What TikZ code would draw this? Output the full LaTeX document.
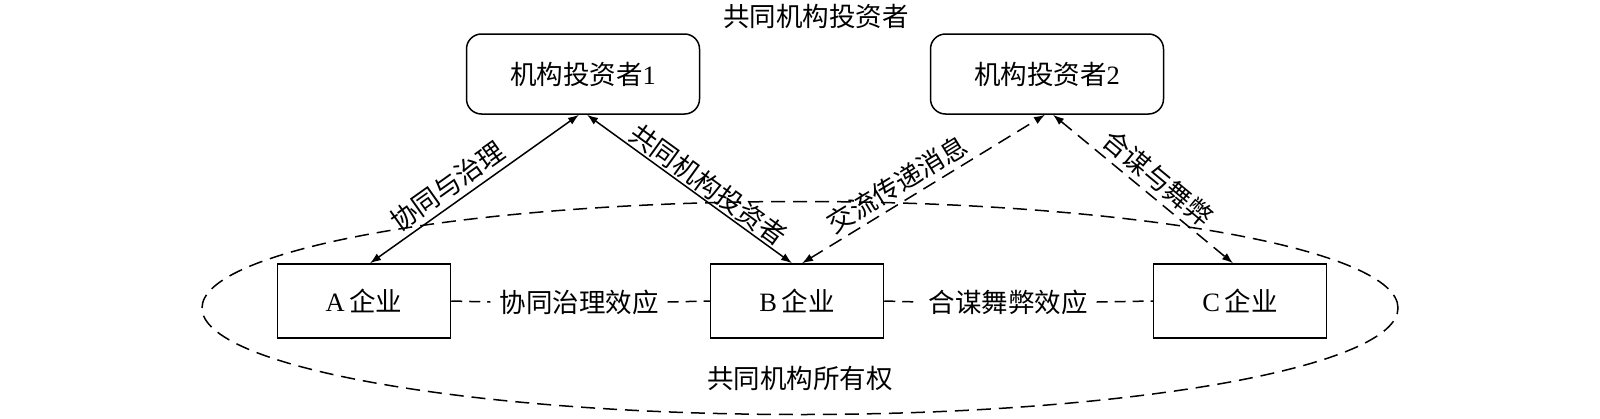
\documentclass[tikz,border=0pt]{standalone}
\usepackage{fontspec}
\setmainfont{Liberation Serif}
\newfontfamily\cjk{Noto Sans CJK SC}
\usetikzlibrary{arrows.meta,shapes.geometric}
\begin{document}
\begin{tikzpicture}[x=1pt,y=-1pt,
  every node/.style={font=\fontsize{26.5}{30}\selectfont},
  invbox/.style={draw, line width=1.5pt, rounded corners=15pt, minimum width=233pt, minimum height=80pt, inner sep=0pt},
  firmbox/.style={draw, line width=1.5pt, minimum width=173pt, minimum height=74pt, inner sep=0pt},
  solidarrow/.style={line width=1.5pt, {Latex[length=11pt,width=8pt]}-{Latex[length=11pt,width=8pt]}},
  dasharrow/.style={solidarrow, dash pattern=on 14pt off 8pt},
  dashlink/.style={line width=1.5pt, dash pattern=on 11pt off 7pt},
  lbl/.style={sloped, above, inner sep=5pt},
  efflbl/.style={inner sep=9pt}
]
\useasboundingbox (0,0) rectangle (1600,418);
\node[draw, ellipse, dash pattern=on 14pt off 8pt, line width=1.5pt, minimum width=1196pt, minimum height=213pt, inner sep=0pt] (own) at (800,308) {};
\node (title) at (816,16) {\cjk 共同机构投资者};
\node[invbox] (inv1) at (583,74) {{\cjk 机构投资者}1};
\node[invbox] (inv2) at (1047,74) {{\cjk 机构投资者}2};
\node[firmbox] (A) at (364,301) {A\,{\cjk 企业}};
\node[firmbox] (B) at (797,301) {B\,{\cjk 企业}};
\node[firmbox] (C) at (1240,301) {C\,{\cjk 企业}};
\node (ownlbl) at (800,378) {\cjk 共同机构所有权};
\node[efflbl] (eff1) at (579,302) {\cjk 协同治理效应};
\node[efflbl] (eff2) at (1008,302) {\cjk 合谋舞弊效应};
\draw[dashlink] (A.east) -- (eff1.west);
\draw[dashlink] (eff1.east) -- (B.west);
\draw[dashlink] (B.east) -- (eff2.west);
\draw[dashlink] (eff2.east) -- (C.west);
\draw[solidarrow] ([xshift=6pt]A.north) -- node[lbl, pos=0.42] {\cjk 协同与治理} ([xshift=-4pt]inv1.south);
\draw[solidarrow] ([xshift=4pt]inv1.south) -- node[lbl, pos=0.55, inner sep=1.5pt] {\cjk 共同机构投资者} ([xshift=-5pt]B.north);
\draw[dasharrow] ([xshift=5pt]B.north) -- node[lbl, pos=0.43] {\cjk 交流传递消息} ([xshift=-2pt]inv2.south);
\draw[dasharrow] ([xshift=6pt]inv2.south) -- node[lbl, pos=0.52] {\cjk 合谋与舞弊} ([xshift=-7pt]C.north);
\end{tikzpicture}
\end{document}
